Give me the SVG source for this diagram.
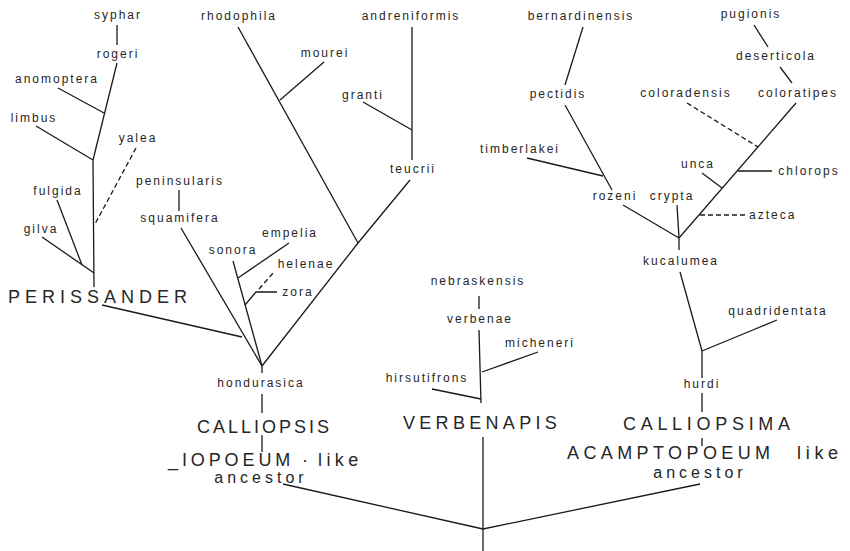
<svg xmlns="http://www.w3.org/2000/svg" width="850" height="551" viewBox="0 0 850 551">
<style>
text{font-family:"Liberation Sans",Arial,sans-serif;fill:#262626}
.t{font-size:12px;letter-spacing:2px;text-anchor:middle}
.g{font-size:18px;letter-spacing:4.4px}
.a{font-size:16px;letter-spacing:4px;text-anchor:middle}
.c line,.c polyline{stroke:#1a1a1a;stroke-width:1.3;fill:none}
.c .d{stroke-dasharray:5 3}
</style>
<rect width="850" height="551" fill="#fff"/>
<g class="c" id="connectors">
<line x1="117" y1="25" x2="117" y2="45"/>
<line x1="117" y1="63" x2="93" y2="160"/>
<line x1="58" y1="88" x2="104" y2="113"/>
<line x1="36" y1="126" x2="93" y2="160"/>
<line x1="93" y1="160" x2="94" y2="287"/>
<line class="d" x1="136" y1="148" x2="95" y2="224"/>
<line x1="57" y1="200" x2="82" y2="265"/>
<line x1="42" y1="237" x2="94" y2="273"/>
<line x1="102" y1="305" x2="242" y2="337"/>
<line x1="179" y1="190" x2="179" y2="211"/>
<line x1="181" y1="228" x2="262" y2="366"/>
<line x1="233" y1="261" x2="262" y2="366"/>
<line x1="238" y1="278" x2="289" y2="243"/>
<polyline points="245,305 256,292 277,292"/>
<line class="d" x1="259" y1="289" x2="274" y2="272"/>
<line x1="238" y1="27" x2="358" y2="243"/>
<line x1="280" y1="100" x2="324" y2="62"/>
<polyline points="410,180 358,243 262,366"/>
<line x1="412" y1="27" x2="412" y2="160"/>
<line x1="363" y1="102" x2="412" y2="130"/>
<line x1="262" y1="366" x2="262" y2="373"/>
<line x1="262" y1="394" x2="262" y2="413"/>
<line x1="262" y1="435" x2="262" y2="452"/>
<line x1="283" y1="484" x2="483" y2="529"/>
<line x1="479" y1="296" x2="479" y2="309"/>
<line x1="479" y1="330" x2="481" y2="403"/>
<line x1="482" y1="372" x2="538" y2="352"/>
<line x1="432" y1="389" x2="481" y2="399"/>
<line x1="483" y1="437" x2="483" y2="551"/>
<line x1="583" y1="27" x2="565" y2="85"/>
<line x1="565" y1="105" x2="612" y2="190"/>
<line x1="527" y1="158" x2="603" y2="176"/>
<line x1="623" y1="205" x2="679" y2="238"/>
<line x1="677" y1="205" x2="679" y2="238"/>
<line x1="679" y1="238" x2="796" y2="103"/>
<line class="d" x1="700" y1="215" x2="747" y2="215"/>
<line x1="702" y1="173" x2="722" y2="188"/>
<line x1="738" y1="171" x2="772" y2="171"/>
<line class="d" x1="687" y1="103" x2="758" y2="147"/>
<line x1="780" y1="67" x2="792" y2="83"/>
<line x1="754" y1="25" x2="768" y2="47"/>
<line x1="679" y1="238" x2="679" y2="250"/>
<line x1="680" y1="272" x2="702" y2="351"/>
<line x1="702" y1="351" x2="777" y2="320"/>
<line x1="702" y1="351" x2="702" y2="378"/>
<line x1="702" y1="393" x2="702" y2="412"/>
<line x1="702" y1="438" x2="702" y2="446"/>
<line x1="700" y1="484" x2="483" y2="529"/>
</g>
<g id="syphar"><text class="t" x="118" y="19">syphar</text></g>
<g id="rogeri"><text class="t" x="118" y="58">rogeri</text></g>
<g id="anomoptera"><text class="t" x="57" y="83">anomoptera</text></g>
<g id="limbus"><text class="t" x="34" y="122">limbus</text></g>
<g id="yalea"><text class="t" x="138" y="142">yalea</text></g>
<g id="fulgida"><text class="t" x="58" y="195">fulgida</text></g>
<g id="gilva"><text class="t" x="41" y="233">gilva</text></g>
<g id="perissander"><text class="g" x="8" y="303" style="letter-spacing:5px">PERISSANDER</text></g>
<g id="peninsularis"><text class="t" x="180" y="185">peninsularis</text></g>
<g id="squamifera"><text class="t" x="180" y="222">squamifera</text></g>
<g id="rhodophila"><text class="t" x="239" y="20">rhodophila</text></g>
<g id="mourei"><text class="t" x="325" y="57">mourei</text></g>
<g id="andreniformis"><text class="t" x="411" y="20">andreniformis</text></g>
<g id="granti"><text class="t" x="363" y="99">granti</text></g>
<g id="teucrii"><text class="t" x="413" y="173">teucrii</text></g>
<g id="empelia"><text class="t" x="290" y="237">empelia</text></g>
<g id="sonora"><text class="t" x="233" y="254">sonora</text></g>
<g id="helenae"><text class="t" x="306" y="268">helenae</text></g>
<g id="zora"><text class="t" x="298" y="296">zora</text></g>
<g id="hondurasica"><text class="t" x="261" y="387">hondurasica</text></g>
<g id="calliopsis"><text class="g" x="197" y="433" style="letter-spacing:3px">CALLIOPSIS</text></g>
<g id="calliopsis-ancestor"><text class="g" x="168" y="466" style="letter-spacing:3.9px">_IOPOEUM</text><text class="g" x="302" y="466">·</text><text class="g" x="318" y="466">like</text><text class="a" x="261" y="483">ancestor</text></g>
<g id="nebraskensis"><text class="t" x="478" y="285">nebraskensis</text></g>
<g id="verbenae"><text class="t" x="480" y="323">verbenae</text></g>
<g id="micheneri"><text class="t" x="540" y="347">micheneri</text></g>
<g id="hirsutifrons"><text class="t" x="427" y="382">hirsutifrons</text></g>
<g id="verbenapis"><text class="g" x="403" y="429" style="letter-spacing:4.3px">VERBENAPIS</text></g>
<g id="bernardinensis"><text class="t" x="581" y="20">bernardinensis</text></g>
<g id="pectidis"><text class="t" x="558" y="98">pectidis</text></g>
<g id="timberlakei"><text class="t" x="520" y="153">timberlakei</text></g>
<g id="rozeni"><text class="t" x="615" y="200">rozeni</text></g>
<g id="crypta"><text class="t" x="672" y="200">crypta</text></g>
<g id="kucalumea"><text class="t" x="681" y="265">kucalumea</text></g>
<g id="unca"><text class="t" x="698" y="168">unca</text></g>
<g id="chlorops"><text class="t" x="809" y="175">chlorops</text></g>
<g id="azteca"><text class="t" x="749" y="219" style="text-anchor:start">azteca</text></g>
<g id="coloradensis"><text class="t" x="686" y="97">coloradensis</text></g>
<g id="coloratipes"><text class="t" x="798" y="97">coloratipes</text></g>
<g id="deserticola"><text class="t" x="776" y="60">deserticola</text></g>
<g id="pugionis"><text class="t" x="751" y="18">pugionis</text></g>
<g id="quadridentata"><text class="t" x="778" y="315">quadridentata</text></g>
<g id="hurdi"><text class="t" x="702" y="388">hurdi</text></g>
<g id="calliopsima"><text class="g" x="623" y="430" style="letter-spacing:4.7px">CALLIOPSIMA</text></g>
<g id="calliopsima-ancestor"><text class="g" x="567" y="459">ACAMPTOPOEUM</text><text class="g" x="797" y="459" style="letter-spacing:4.7px">like</text><text class="a" x="700" y="478">ancestor</text></g>
</svg>
